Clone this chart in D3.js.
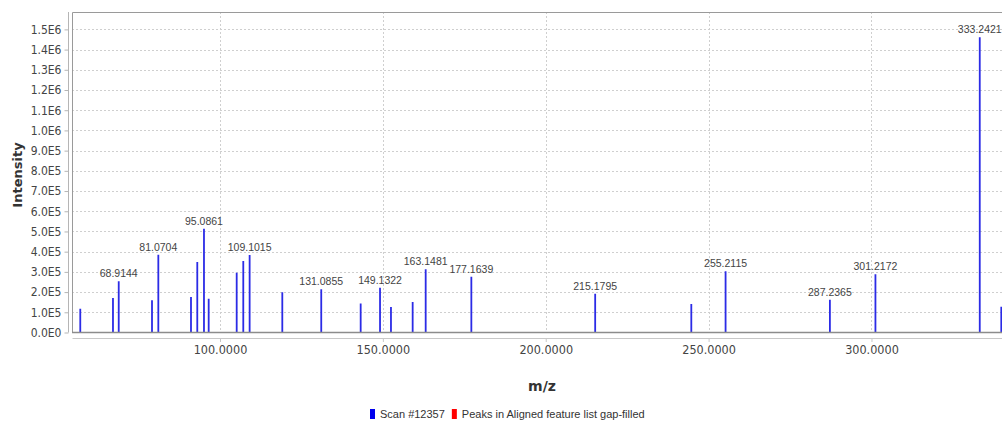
<!DOCTYPE html>
<html>
<head>
<meta charset="utf-8">
<script src="https://cdn.jsdelivr.net/npm/d3@7"></script>
<style>
  html, body { margin: 0; padding: 0; background: #fff; }
  svg { display: block; }
</style>
</head>
<body>
<svg id="chart" width="1002" height="421"></svg>
<script>
// Peak list for scan #12357: m/z centroid and intensity
const peakMz = [57.11, 67.15, 68.9144, 79.13, 81.0704, 91.10, 93.03, 95.0861, 96.53,
  105.13, 107.15, 109.1015, 119.13, 131.0855, 143.19, 149.1322, 152.49, 159.15,
  163.1481, 177.1639, 215.1795, 244.69, 255.2115, 287.2365, 301.2172, 333.2421, 339.85];
const peakIntensity = [1.18e5, 1.71e5, 2.53e5, 1.59e5, 3.85e5, 1.76e5, 3.49e5, 5.14e5, 1.67e5,
  2.96e5, 3.54e5, 3.83e5, 1.99e5, 2.14e5, 1.43e5, 2.22e5, 1.26e5, 1.51e5,
  3.13e5, 2.76e5, 1.92e5, 1.41e5, 3.03e5, 1.62e5, 2.88e5, 1.461e6, 1.28e5];
// Peaks annotated with their m/z value
const labeledMz = [68.9144, 81.0704, 95.0861, 109.1015, 131.0855, 149.1322, 163.1481,
  177.1639, 215.1795, 255.2115, 287.2365, 301.2172, 333.2421];

const xTickValues = [100, 150, 200, 250, 300];
const xTickLabels = ["100.0000", "150.0000", "200.0000", "250.0000", "300.0000"];
const yTickValues = [0, 1e5, 2e5, 3e5, 4e5, 5e5, 6e5, 7e5, 8e5, 9e5, 1e6, 1.1e6, 1.2e6, 1.3e6, 1.4e6, 1.5e6];
const yTickLabels = ["0.0E0", "1.0E5", "2.0E5", "3.0E5", "4.0E5", "5.0E5", "6.0E5", "7.0E5", "8.0E5",
  "9.0E5", "1.0E6", "1.1E6", "1.2E6", "1.3E6", "1.4E6", "1.5E6"];
const legendItems = ["Scan #12357", "Peaks in Aligned feature list gap-filled"];
const legendColors = ["#0000ee", "#ff0000"];

const svg = d3.select("#chart");
const plot = { left: 72, right: 1012, top: 12, bottom: 332.5 };

const x = d3.scaleLinear().domain([54.57, 343.14]).range([plot.left, plot.right]);
const y = d3.scaleLinear().domain([0, 1.586e6]).range([plot.bottom, plot.top]);

const tickFont = "'DejaVu Sans Condensed', 'DejaVu Sans', sans-serif";
const textFont = "'Liberation Sans', Arial, sans-serif";

svg.append("defs").append("clipPath").attr("id", "plotClip")
  .append("rect")
  .attr("x", plot.left).attr("y", plot.top)
  .attr("width", plot.right - plot.left).attr("height", plot.bottom - plot.top);

// plot background
svg.append("rect")
  .attr("x", plot.left).attr("y", plot.top)
  .attr("width", plot.right - plot.left).attr("height", plot.bottom - plot.top)
  .attr("fill", "#fff");

// dotted grid
const grid = svg.append("g").attr("clip-path", "url(#plotClip)");
grid.selectAll("line.hg").data(yTickValues.slice(1)).join("line")
  .attr("x1", plot.left).attr("x2", plot.right)
  .attr("y1", d => Math.round(y(d)) + 0.5).attr("y2", d => Math.round(y(d)) + 0.5)
  .attr("stroke", "#cfcfcf").attr("stroke-width", 1).attr("stroke-dasharray", "2,2");
grid.selectAll("line.vg").data(xTickValues).join("line")
  .attr("x1", d => Math.round(x(d)) + 0.5).attr("x2", d => Math.round(x(d)) + 0.5)
  .attr("y1", plot.top).attr("y2", plot.bottom)
  .attr("stroke", "#cfcfcf").attr("stroke-width", 1).attr("stroke-dasharray", "2,2");

// peaks as sticks
const peaks = peakMz.map((m, i) => ({ mz: m, intensity: peakIntensity[i] }));
svg.append("g").attr("clip-path", "url(#plotClip)")
  .selectAll("line").data(peaks).join("line")
  .attr("x1", d => x(d.mz)).attr("x2", d => x(d.mz))
  .attr("y1", y(0)).attr("y2", d => y(d.intensity))
  .attr("stroke", "#2b2be6").attr("stroke-width", 1.8);

// plot outline (top, left, bottom)
svg.append("path")
  .attr("d", `M${plot.right},${plot.top + 0.5}H${plot.left + 0.5}V${plot.bottom}`)
  .attr("fill", "none").attr("stroke", "#9a9a9a").attr("stroke-width", 1);
svg.append("line")
  .attr("x1", plot.left).attr("x2", plot.right)
  .attr("y1", plot.bottom).attr("y2", plot.bottom)
  .attr("stroke", "#8c8c8c").attr("stroke-width", 1.5);

// peak annotations
const labeled = peaks.filter(d => labeledMz.includes(d.mz));
svg.append("g").selectAll("text").data(labeled).join("text")
  .attr("x", d => x(d.mz)).attr("y", d => y(d.intensity) - 4)
  .attr("text-anchor", "middle")
  .attr("font-family", textFont).attr("font-size", 10.5).attr("fill", "#444")
  .text(d => d.mz.toFixed(4));

// y axis, offset from the plot
const yAxis = d3.axisLeft(y).tickValues(yTickValues)
  .tickFormat((d, i) => yTickLabels[i]).tickSizeInner(4).tickSizeOuter(0).tickPadding(3);
const gy = svg.append("g").attr("transform", "translate(68.5,0)").call(yAxis);
gy.select(".domain").attr("stroke", "#b5b5b5").attr("d", `M0,${plot.top}V${plot.bottom}`);
gy.selectAll(".tick line").attr("stroke", "#b5b5b5");
gy.selectAll(".tick text").attr("font-family", tickFont).attr("font-size", 12).attr("fill", "#444");

// x axis, offset below the plot
const xAxis = d3.axisBottom(x).tickValues(xTickValues)
  .tickFormat((d, i) => xTickLabels[i]).tickSizeInner(4).tickSizeOuter(0).tickPadding(3);
const gx = svg.append("g").attr("transform", "translate(0,338)").call(xAxis);
gx.select(".domain").attr("stroke", "#c8c8c8");
gx.selectAll(".tick line").attr("stroke", "#c8c8c8");
gx.selectAll(".tick text").attr("font-family", tickFont).attr("font-size", 12.5).attr("fill", "#444");

// axis titles
svg.append("text")
  .attr("transform", "translate(22,175) rotate(-90)")
  .attr("text-anchor", "middle")
  .attr("font-family", "'DejaVu Sans', sans-serif").attr("font-weight", "bold")
  .attr("font-size", 13).attr("fill", "#333")
  .text("Intensity");
svg.append("text")
  .attr("x", 542).attr("y", 391)
  .attr("text-anchor", "middle")
  .attr("font-family", "'DejaVu Sans', sans-serif").attr("font-weight", "bold")
  .attr("font-size", 14).attr("fill", "#333")
  .text("m/z");

// legend
const legend = svg.append("g");
let lx = 370;
legendItems.forEach((name, i) => {
  legend.append("rect").attr("x", lx).attr("y", 409).attr("width", 5).attr("height", 10)
    .attr("fill", legendColors[i]);
  const t = legend.append("text").attr("x", lx + 10).attr("y", 418)
    .attr("font-family", textFont).attr("font-size", 11).attr("fill", "#333")
    .text(name);
  lx += 10 + t.node().getComputedTextLength() + 7;
});
</script>
</body>
</html>
